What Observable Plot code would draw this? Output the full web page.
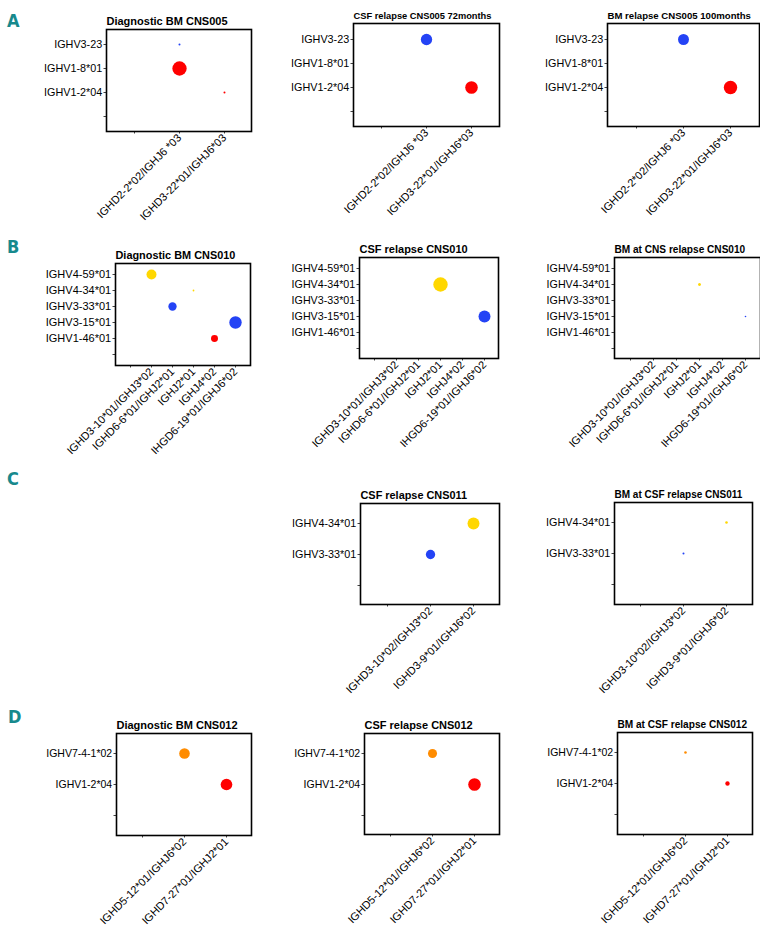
<!DOCTYPE html>
<html>
<head>
<meta charset="utf-8">
<script src="https://cdn.jsdelivr.net/npm/d3@7"></script>
<script src="https://cdn.jsdelivr.net/npm/@observablehq/plot@0.6"></script>
<style>
  html, body { margin: 0; padding: 0; background: #fff; overflow: hidden; }
  #chart { position: relative; width: 760px; height: 937px; overflow: hidden; background: #fff; }
  #chart svg { position: absolute; overflow: visible; }
</style>
</head>
<body>
<div id="chart"></div>
<script>
// ---------- data ----------
const panelLetters = ["A", "B", "C", "D"];

// V genes (top to bottom) and D/J rearrangements (left to right) per patient
const vGenesCNS005 = ["IGHV3-23", "IGHV1-8*01", "IGHV1-2*04"];
const djGenesCNS005 = ["IGHD2-2*02/IGHJ6 *03", "IGHD3-22*01/IGHJ6*03"];
const vGenesCNS010 = ["IGHV4-59*01", "IGHV4-34*01", "IGHV3-33*01", "IGHV3-15*01", "IGHV1-46*01"];
const djGenesCNS010 = ["IGHD3-10*01/IGHJ3*02", "IGHD6-6*01/IGHJ2*01", "IGHJ2*01", "IGHJ4*02", "IHGD6-19*01/IGHJ6*02"];
const vGenesCNS011 = ["IGHV4-34*01", "IGHV3-33*01"];
const djGenesCNS011 = ["IGHD3-10*02/IGHJ3*02", "IGHD3-9*01/IGHJ6*02"];
const vGenesCNS012 = ["IGHV7-4-1*02", "IGHV1-2*04"];
const djGenesCNS012 = ["IGHD5-12*01/IGHJ6*02", "IGHD7-27*01/IGHJ2*01"];

// clones: [V gene, D/J rearrangement, relative clone size (%)]
const diagBM_CNS005 = [["IGHV3-23", "IGHD2-2*02/IGHJ6 *03", 1.6], ["IGHV1-8*01", "IGHD2-2*02/IGHJ6 *03", 80], ["IGHV1-2*04", "IGHD3-22*01/IGHJ6*03", 1.6]];
const csf72_CNS005 = [["IGHV3-23", "IGHD2-2*02/IGHJ6 *03", 50], ["IGHV1-2*04", "IGHD3-22*01/IGHJ6*03", 62]];
const bm100_CNS005 = [["IGHV3-23", "IGHD2-2*02/IGHJ6 *03", 47], ["IGHV1-2*04", "IGHD3-22*01/IGHJ6*03", 70]];
const diagBM_CNS010 = [["IGHV4-59*01", "IGHD3-10*01/IGHJ3*02", 39], ["IGHV4-34*01", "IGHJ2*01", 1.2], ["IGHV3-33*01", "IGHD6-6*01/IGHJ2*01", 27], ["IGHV3-15*01", "IHGD6-19*01/IGHJ6*02", 60], ["IGHV1-46*01", "IGHJ4*02", 19]];
const csf_CNS010 = [["IGHV4-34*01", "IGHJ2*01", 81], ["IGHV3-15*01", "IHGD6-19*01/IGHJ6*02", 56]];
const bmCNS_CNS010 = [["IGHV4-34*01", "IGHJ2*01", 3.5], ["IGHV3-15*01", "IHGD6-19*01/IGHJ6*02", 1]];
const csf_CNS011 = [["IGHV4-34*01", "IGHD3-9*01/IGHJ6*02", 56], ["IGHV3-33*01", "IGHD3-10*02/IGHJ3*02", 34]];
const bmCSF_CNS011 = [["IGHV4-34*01", "IGHD3-9*01/IGHJ6*02", 2.6], ["IGHV3-33*01", "IGHD3-10*02/IGHJ3*02", 1.6]];
const diagBM_CNS012 = [["IGHV7-4-1*02", "IGHD5-12*01/IGHJ6*02", 44], ["IGHV1-2*04", "IGHD7-27*01/IGHJ2*01", 53]];
const csf_CNS012 = [["IGHV7-4-1*02", "IGHD5-12*01/IGHJ6*02", 32], ["IGHV1-2*04", "IGHD7-27*01/IGHJ2*01", 62]];
const bmCSF_CNS012 = [["IGHV7-4-1*02", "IGHD5-12*01/IGHJ6*02", 2.6], ["IGHV1-2*04", "IGHD7-27*01/IGHJ2*01", 7.5]];

const vFamilies = ["IGHV1", "IGHV3", "IGHV4", "IGHV7"];

// ---------- styles / layout ----------
const familyColors = ["#ff0000", "#2443f5", "#ffd700", "#ff8c00"];
const teal = "#17898d";

// frame boxes [left, right, top, bottom], title size, y-label size
const panels = [
  {title: "Diagnostic BM CNS005", data: diagBM_CNS005, v: vGenesCNS005, dj: djGenesCNS005, box: [106, 251, 29, 131], ts: 11, ys: 10.8},
  {title: "CSF relapse CNS005 72months", data: csf72_CNS005, v: vGenesCNS005, dj: djGenesCNS005, box: [353, 499, 23, 126], ts: 9.3, ys: 10.8},
  {title: "BM relapse CNS005 100months", data: bm100_CNS005, v: vGenesCNS005, dj: djGenesCNS005, box: [607, 759, 23, 126], ts: 9.6, ys: 10.8},
  {title: "Diagnostic BM CNS010", data: diagBM_CNS010, v: vGenesCNS010, dj: djGenesCNS010, box: [115, 250, 263, 365], ts: 10.9, ys: 11},
  {title: "CSF relapse CNS010", data: csf_CNS010, v: vGenesCNS010, dj: djGenesCNS010, box: [359, 498, 257, 358], ts: 11, ys: 10.7},
  {title: "BM at CNS relapse CNS010", data: bmCNS_CNS010, v: vGenesCNS010, dj: djGenesCNS010, box: [614, 760, 257, 358], ts: 10.1, ys: 10.7},
  {title: "CSF relapse CNS011", data: csf_CNS011, v: vGenesCNS011, dj: djGenesCNS011, box: [360, 499, 503, 604], ts: 10.9, ys: 10.8},
  {title: "BM at CSF relapse CNS011", data: bmCSF_CNS011, v: vGenesCNS011, dj: djGenesCNS011, box: [614, 752, 502, 604], ts: 10, ys: 10.8},
  {title: "Diagnostic BM CNS012", data: diagBM_CNS012, v: vGenesCNS012, dj: djGenesCNS012, box: [116, 251, 733, 835], ts: 11, ys: 10.5},
  {title: "CSF relapse CNS012", data: csf_CNS012, v: vGenesCNS012, dj: djGenesCNS012, box: [364, 499, 733, 834], ts: 11, ys: 10.5},
  {title: "BM at CSF relapse CNS012", data: bmCSF_CNS012, v: vGenesCNS012, dj: djGenesCNS012, box: [617, 752, 732, 834], ts: 10.1, ys: 10.5}
];
const letterPos = [[7, 27], [7, 253], [7, 485], [8, 723]];

const container = document.getElementById("chart");
const font = "'Liberation Sans', Arial, Helvetica, sans-serif";

for (const p of panels) {
  const [L, R, T, B] = p.box;
  const ml = 100, mr = 4, mt = 30, mb = 110;
  const w = (R - L) + ml + mr;
  const h = (B - T) + mt + mb;
  const rows = p.data.map(([v, dj, size]) => ({v, dj, size, fam: v.split("-")[0]}));
  const svg = Plot.plot({
    width: w, height: h,
    marginLeft: ml, marginRight: mr, marginTop: mt, marginBottom: mb,
    style: {fontFamily: font, background: "transparent", overflow: "visible", color: "#000"},
    x: {type: "point", domain: ["", ...p.dj], padding: 0.6, label: null},
    y: {type: "point", domain: [...p.v, ""], padding: 0.6, label: null},
    r: {type: "sqrt", domain: [0, 100], range: [0, 8]},
    color: {domain: vFamilies, range: familyColors},
    marks: [
      Plot.axisY({tickSize: 2.5, tickPadding: 1.8, fontSize: p.ys, stroke: "#444", fill: "#000", label: null}),
      Plot.axisX({tickSize: 2.5, tickPadding: 2, tickRotate: -45, fontSize: 11, stroke: "#444", fill: "#000", label: null}),
      Plot.dot(rows, {x: "dj", y: "v", r: "size", fill: "fam", stroke: null}),
      Plot.frame({stroke: "#000", strokeWidth: 1.6}),
      Plot.text([p.title], {frameAnchor: "top-left", textAnchor: "start", lineAnchor: "bottom", dy: -4.5, fontSize: p.ts, fontWeight: "bold", fill: "#000"})
    ]
  });
  svg.style.left = (L - ml) + "px";
  svg.style.top = (T - mt) + "px";
  container.appendChild(svg);
}

// panel letters
const overlay = d3.create("svg").attr("width", 760).attr("height", 937).style("left", "0px").style("top", "0px");
overlay.selectAll("text").data(panelLetters).join("text")
  .attr("x", (d, i) => letterPos[i][0])
  .attr("y", (d, i) => letterPos[i][1])
  .attr("fill", teal)
  .attr("font-family", "'DejaVu Sans Condensed', 'DejaVu Sans', sans-serif")
  .attr("font-stretch", "condensed")
  .attr("font-weight", "bold")
  .attr("font-size", 18)
  .text(d => d);
container.appendChild(overlay.node());
</script>
</body>
</html>
